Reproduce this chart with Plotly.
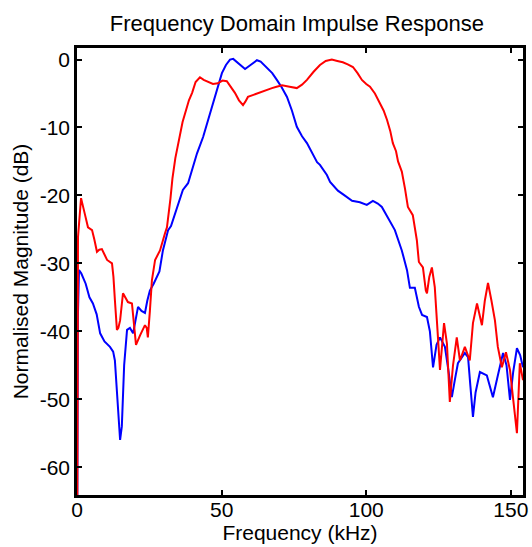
import plotly.graph_objects as go

# ---- data ----
freq_blue = [0.0, 0.3, 0.7, 1.5, 3.0, 4.3, 5.5, 6.8, 8.0, 9.5, 11.4, 12.5, 13.1, 14.0, 14.9, 15.5,
             16.3, 17.3, 18.3, 19.4, 20.3, 21.1, 22.3, 23.5, 24.3, 25.2, 26.5, 27.7, 28.5, 29.7,
             30.5, 31.5, 32.5, 34.6, 35.6, 36.6, 38.4, 40.1, 41.5, 43.6, 46.0, 47.0, 48.5, 50.1,
             51.5, 52.9, 54.0, 54.6, 56.3, 58.1, 60.0, 62.2, 63.5, 65.7, 67.5, 69.1, 70.8, 72.6,
             74.3, 76.0, 77.8, 79.5, 81.3, 83.0, 84.0, 86.4, 87.5, 90.2, 92.5, 95.1, 97.8, 100.2,
             102.3, 104.0, 105.4, 107.5, 109.9, 112.3, 114.1, 115.1, 116.8, 118.2, 119.3, 121.0,
             122.0, 123.1, 124.3, 125.5, 127.2, 128.5, 129.6, 130.7, 131.7, 134.1, 135.2, 136.0,
             136.9, 137.8, 139.3, 141.7, 143.8, 145.5, 147.3, 148.5, 149.7, 150.8, 152.1, 153.2,
             154.2]
mag_blue = [-80, -38, -31.0, -31.5, -33.0, -35.0, -35.9, -37.5, -40.3, -41.5, -42.3, -43.0, -44.3,
            -50, -56.0, -54, -45, -39.8, -39.5, -40.3, -38.5, -36.4, -37.0, -37.3, -35.5, -34.0,
            -33.0, -32.0, -31.2, -28.1, -26.8, -25.1, -24.5, -21.7, -20.3, -19.2, -18.2, -15.8,
            -13.8, -11.4, -7.9, -6.4, -4.5, -2.0, -0.8, 0.0, 0.1, -0.1, -0.8, -1.4, -0.8, -0.1,
            -0.3, -1.25, -2.0, -3.0, -4.1, -5.5, -7.5, -9.9, -11.3, -12.3, -13.7, -15.1, -15.5,
            -17.0, -18.0, -19.3, -20.0, -20.8, -21.0, -21.4, -20.8, -21.2, -21.7, -23.2, -25.1,
            -28.1, -31.0, -33.6, -33.6, -36.4, -37.6, -37.9, -40, -45.3, -42, -40.9, -42.3, -46,
            -49.7, -47, -44.7, -43.2, -43.8, -48, -52.6, -49, -46.0, -46.5, -49.7, -46.5, -43.2,
            -45, -50.1, -46, -42.5, -43.5, -45.3]

freq_red = [0.0, 0.35, 1.4, 2.1, 2.8, 3.8, 5.2, 6.0, 6.9, 7.7, 8.6, 9.5, 10.4, 12.1, 12.6, 13.1,
            13.8, 14.3, 14.9, 15.9, 16.7, 17.6, 19.0, 19.6, 20.4, 21.8, 23.5, 24.1, 24.5, 25.2,
            25.9, 27.0, 28.7, 30.4, 31.1, 32.3, 33.0, 34.0, 34.9, 36.5, 38.7, 39.8, 41.0, 42.5,
            43.8, 45.3, 47.0, 48.7, 50.3, 51.8, 53.2, 54.6, 56.0, 57.4, 58.2, 59.1, 61.0, 63.3,
            65.3, 67.4, 69.0, 70.9, 73.5, 76.0, 77.8, 79.5, 81.8, 84.0, 86.0, 88.1, 90.0, 91.9,
            93.6, 95.4, 97.0, 98.5, 100.0, 101.3, 103.0, 104.7, 106.0, 107.2, 108.3, 109.2, 110.3,
            111.0, 112.3, 113.4, 114.4, 116.1, 117.5, 118.2, 119.6, 120.6, 121.0, 121.8, 122.7,
            123.7, 124.3, 124.8, 125.5, 126.2, 126.9, 127.9, 128.9, 130.0, 131.3, 132.4, 134.1,
            135.8, 136.9, 138.3, 139.2, 140.0, 141.0, 142.1, 143.3, 144.5, 145.5, 146.9, 148.3,
            149.7, 150.8, 152.1, 153.1, 154.2]
mag_red = [-80, -26.1, -20.4, -21.5, -22.9, -24.7, -25.1, -26.5, -28.3, -28.0, -27.9, -28.7, -29.5,
           -30.0, -32, -35.4, -39.8, -39.5, -38.4, -34.4, -35.0, -35.7, -35.9, -38.5, -42.0, -40.6,
           -39.1, -39.5, -40.9, -37, -32.5, -29.5, -28.1, -25.6, -24.7, -20.5, -17.5, -14.5,
           -12.5, -9.2, -6.0, -4.9, -3.3, -2.6, -3.0, -3.3, -3.6, -3.5, -3.1, -3.2, -4.0, -4.9,
           -6.0, -6.7, -6.2, -5.5, -5.2, -4.8, -4.5, -4.2, -4.0, -3.8, -4.0, -4.2, -3.7, -3.0,
           -1.8, -0.8, -0.2, 0.0, -0.2, -0.4, -0.7, -1.1, -2.0, -3.0, -3.6, -4.0, -5.0, -6.4,
           -7.5, -8.9, -10.5, -12.3, -13.5, -15.0, -16.5, -19, -21.7, -22.9, -26.6, -29.8, -30.6,
           -34.0, -34.4, -32, -30.6, -33.5, -37, -40.9, -45.7, -42, -38.8, -41.8, -50.4, -45,
           -40.9, -44.3, -42.3, -44.3, -38.8, -35.9, -37.5, -39.1, -35.5, -32.9, -35.5, -38.4,
           -42.3, -45.3, -43.1, -45.7, -50, -55.0, -44.7, -47.2]

x_ticks = [0, 50, 100, 150]
y_ticks = [0, -10, -20, -30, -40, -50, -60]

FONT = "Liberation Sans, Arial, sans-serif"

fig = go.Figure()
fig.add_trace(go.Scatter(x=freq_blue, y=mag_blue, mode="lines",
                         line=dict(color="#0000ff", width=2), showlegend=False))
fig.add_trace(go.Scatter(x=freq_red, y=mag_red, mode="lines",
                         line=dict(color="#ff0000", width=2), showlegend=False))

axis_common = dict(showline=True, linecolor="black", linewidth=2.5, mirror="allticks",
                   ticks="inside", ticklen=5, tickwidth=2, tickcolor="black",
                   showgrid=False, zeroline=False, automargin=False,
                   tickfont=dict(family=FONT, size=21, color="black"))

fig.update_xaxes(range=[0, 154.2], tickvals=x_ticks, ticktext=[str(v) for v in x_ticks],
                 ticklabelstandoff=-6,
                 title=dict(text="Frequency (kHz)", font=dict(family=FONT, size=21, color="black"),
                            standoff=0),
                 **axis_common)
fig.update_yaxes(range=[-64.1, 1.7], tickvals=y_ticks, ticktext=[str(v) for v in y_ticks],
                 title=dict(text="Normalised Magnitude (dB)",
                            font=dict(family=FONT, size=21, color="black"), standoff=6),
                 **axis_common)

fig.update_layout(
    width=532, height=547,
    margin=dict(l=77, r=9, t=48, b=52),
    paper_bgcolor="white", plot_bgcolor="white",
    title=dict(text="Frequency Domain Impulse Response", x=0.558, xanchor="center",
               y=1 - 23 / 547, yanchor="middle", yref="container",
               font=dict(family=FONT, size=22, color="black")),
)

fig.write_html("out.html", config={"displayModeBar": False},
               post_script="document.body.style.margin='0';")
